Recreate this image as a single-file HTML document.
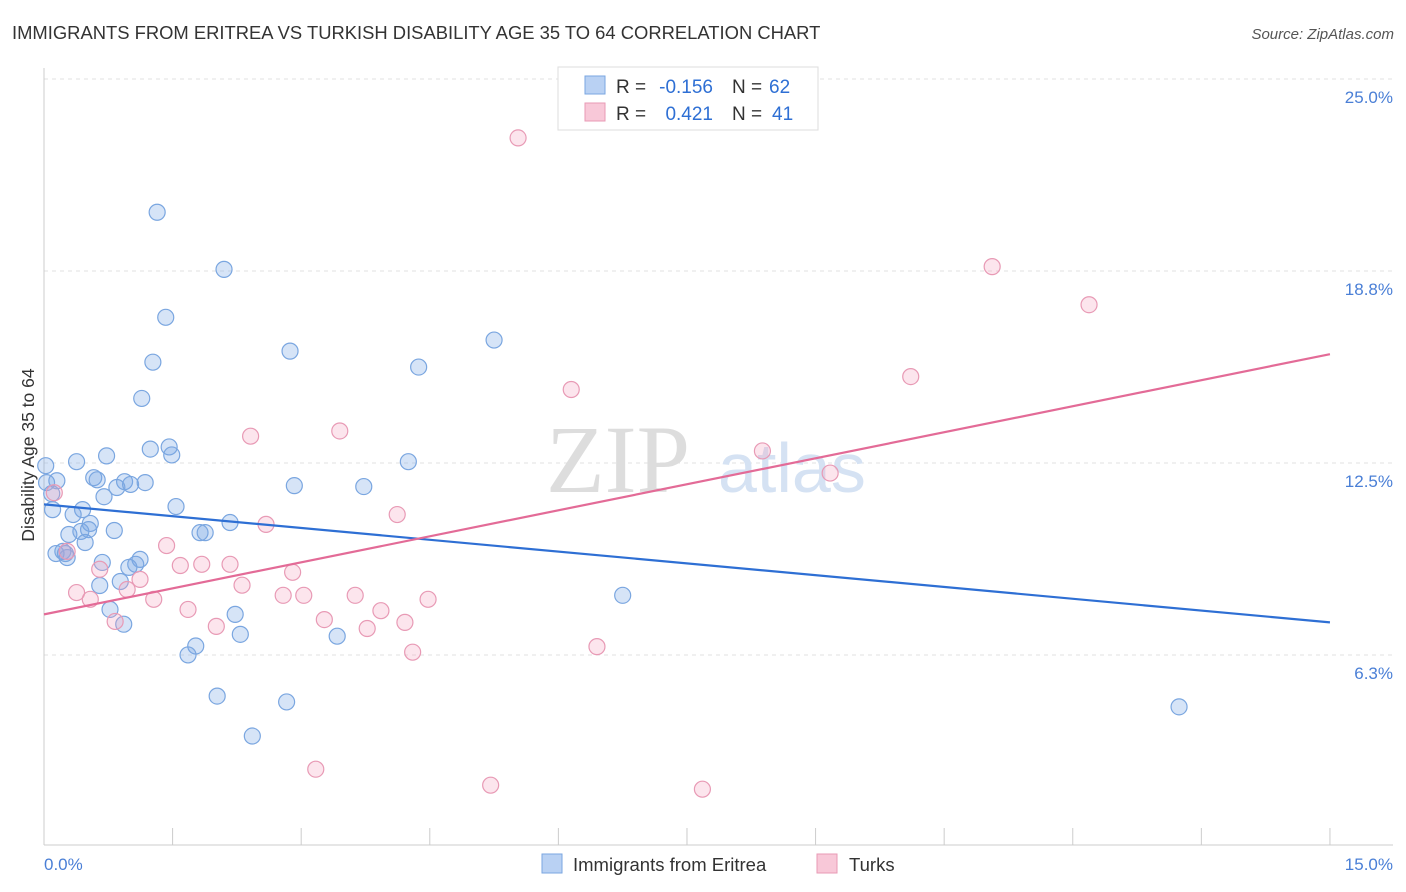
<!DOCTYPE html>
<html><head><meta charset="utf-8"><style>
body{margin:0;background:#fff;font-family:"Liberation Sans",sans-serif;}
svg{display:block}
</style></head><body>
<svg width="1406" height="892" xmlns="http://www.w3.org/2000/svg">
<text x="12" y="39" font-size="18.4" fill="#333">IMMIGRANTS FROM ERITREA VS TURKISH DISABILITY AGE 35 TO 64 CORRELATION CHART</text>
<text x="1394" y="39" font-size="15" fill="#555" font-style="italic" text-anchor="end">Source: ZipAtlas.com</text>
<g id="grid"></g>
<text x="690" y="492" font-size="96" font-family="Liberation Serif" fill="#ddd" text-anchor="end">ZIP</text>
<text x="718" y="492" font-size="70" fill="#d5e2f3">atlas</text>
<line x1="44" y1="68" x2="44" y2="845" stroke="#ccc"/>
<line x1="44" y1="845" x2="1393" y2="845" stroke="#ccc"/>
<g id="xticks"></g>
<g id="pts"></g>
<g id="lines"></g>
<text x="34" y="455" font-size="17.5" fill="#333" text-anchor="middle" transform="rotate(-90 34 455)">Disability Age 35 to 64</text>
<text x="44" y="870" font-size="17" fill="#4a7fd6">0.0%</text>
<text x="1393" y="870" font-size="17" fill="#4a7fd6" text-anchor="end">15.0%</text>
<g>
<rect x="558" y="67" width="260" height="63" fill="#fff" stroke="#ddd"/>
<rect x="585" y="76" width="20" height="18" fill="#b9d1f3" stroke="#7aa6e0"/>
<rect x="585" y="103" width="20" height="18" fill="#f8c8d8" stroke="#e89ab5"/>
<text x="616" y="93" font-size="19" fill="#333">R =</text>
<text x="713" y="93" font-size="19" fill="#2e6fd4" text-anchor="end">-0.156</text>
<text x="732" y="93" font-size="19" fill="#333">N =</text>
<text x="769" y="93" font-size="19" fill="#2e6fd4">62</text>
<text x="616" y="120" font-size="19" fill="#333">R =</text>
<text x="713" y="120" font-size="19" fill="#2e6fd4" text-anchor="end">0.421</text>
<text x="732" y="120" font-size="19" fill="#333">N =</text>
<text x="772" y="120" font-size="19" fill="#2e6fd4">41</text>
</g>
<g>
<rect x="542" y="854" width="20" height="19" fill="#b9d1f3" stroke="#7aa6e0"/>
<text x="573" y="871" font-size="18.5" fill="#333">Immigrants from Eritrea</text>
<rect x="817" y="854" width="20" height="19" fill="#f8c8d8" stroke="#e89ab5"/>
<text x="849" y="871" font-size="18.5" fill="#333">Turks</text>
</g>
</svg>
<script>
const yTicks=[25.0,18.8,12.5,6.3];
const yTickLabels=["25.0%","18.8%","12.5%","6.3%"];
const blueX=[1.32,2.1,1.42,1.27,1.14,2.87,5.25,4.37,1.24,1.46,1.49,0.73,0.38,0.02,0.15,0.58,0.62,0.94,1.01,1.18,0.85,0.7,0.09,2.92,3.73,4.25,0.1,0.45,1.54,0.34,0.54,2.17,0.29,0.43,0.52,0.82,1.82,1.88,0.48,0.14,0.22,0.27,1.12,1.07,0.99,0.68,0.65,0.89,0.77,2.23,0.93,2.29,3.42,6.75,1.77,1.68,2.02,2.83,2.43,13.24,0.03,0.25];
const blueY=[20.76,18.9,17.34,15.88,14.7,16.24,16.6,15.72,13.05,13.12,12.86,12.83,12.64,12.51,12.02,12.12,12.05,11.99,11.9,11.96,11.8,11.5,11.6,11.86,11.83,12.64,11.08,11.08,11.18,10.92,10.63,10.66,10.27,10.37,10.43,10.4,10.33,10.33,10.01,9.65,9.72,9.52,9.46,9.3,9.2,9.36,8.61,8.74,7.83,7.67,7.35,7.02,6.96,8.29,6.64,6.35,5.01,4.82,3.71,4.66,11.96,9.65];
const pinkX=[5.53,11.06,12.19,10.11,6.15,2.41,3.45,8.38,9.17,0.12,4.12,2.59,1.43,1.59,1.84,2.17,2.9,0.65,1.12,2.31,0.97,0.38,0.54,1.28,2.79,3.03,3.63,4.48,1.68,3.93,3.27,4.21,0.83,2.01,3.77,6.45,4.3,3.17,5.21,7.68,0.27];
const pinkY=[23.18,18.99,17.75,15.41,14.99,13.47,13.64,12.99,12.27,11.63,10.92,10.6,9.91,9.26,9.3,9.3,9.04,9.14,8.81,8.62,8.48,8.38,8.16,8.16,8.29,8.29,8.29,8.16,7.83,7.79,7.5,7.41,7.44,7.28,7.21,6.62,6.44,2.63,2.11,1.98,9.72];
const blueTrend=[11.25,7.41];
const pinkTrend=[7.67,16.14];
const xTickVals=[1.5,3,4.5,6,7.5,9,10.5,12,13.5,15];
const NS="http://www.w3.org/2000/svg";
const X=v=>44+v*85.73, Y=v=>658-(v-6.25)*30.72;
const G=v=>655-(v-6.25)*30.72;
function mk(t,a,p){const e=document.createElementNS(NS,t);for(const k in a)e.setAttribute(k,a[k]);document.getElementById(p).appendChild(e);return e;}
yTicks.forEach((v,i)=>{const yy=G(v===18.8?18.75:v===6.3?6.25:v);
const l=mk('line',{x1:44,x2:1393,y1:yy,y2:yy,stroke:'#e2e2e2','stroke-dasharray':'4,4'},'grid');


const t=mk('text',{x:1393,y:yy+24,'font-size':17,fill:'#4a7fd6','text-anchor':'end'},'grid');
t.textContent=yTickLabels[i];

});
xTickVals.forEach(v=>{const l=mk('line',{x1:X(v),x2:X(v),y1:828,y2:845,stroke:'#ccc'},'xticks');

});
blueX.forEach((v,i)=>{const c=mk('circle',{cx:X(v),cy:Y(blueY[i]),r:8,fill:'rgba(120,165,230,0.3)',stroke:'#7aa6e0','stroke-width':1.2},'pts');

});
pinkX.forEach((v,i)=>{const c=mk('circle',{cx:X(v),cy:Y(pinkY[i]),r:8,fill:'rgba(245,160,190,0.28)',stroke:'#e89ab5','stroke-width':1.2},'pts');

});
const bl=mk('line',{x1:X(0),y1:Y(blueTrend[0]),x2:X(15),y2:Y(blueTrend[1]),stroke:'#2e6fd4','stroke-width':2.2},'lines');


const pl=mk('line',{x1:X(0),y1:Y(pinkTrend[0]),x2:X(15),y2:Y(pinkTrend[1]),stroke:'#e36b97','stroke-width':2.2},'lines');


</script>
</body></html>
